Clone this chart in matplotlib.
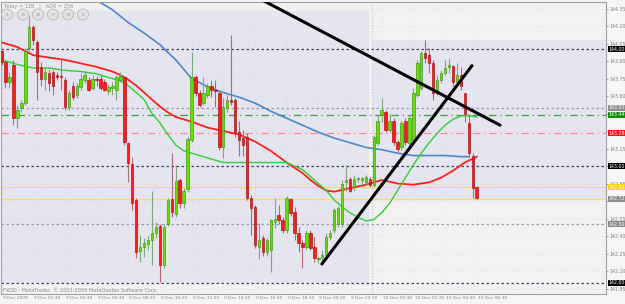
import matplotlib
matplotlib.use('Agg')
import matplotlib.pyplot as plt
from matplotlib.patches import Rectangle, Circle
import numpy as np

# M15 bars, 9 Dec 2009 00:30 -> 10 Dec 06:30
opens = [143.99, 143.89, 143.72, 143.87, 143.41, 143.50, 143.54, 144.01, 144.19, 144.06,
         143.85, 143.75, 143.80, 143.81, 143.78, 143.77, 143.74, 143.51, 143.69, 143.61,
         143.68, 143.74, 143.74, 143.67, 143.75, 143.75, 143.72, 143.64, 143.67, 143.65,
         143.74, 143.76, 143.20, 143.02, 142.71, 142.27, 142.31, 142.33, 142.37, 142.43,
         142.49, 142.15, 142.50, 142.72, 142.59, 142.88, 142.68, 142.80, 143.22, 143.76,
         143.63, 143.54, 143.61, 143.69, 143.65, 143.63, 143.16, 143.50, 143.57, 143.57,
         143.29, 143.24, 143.25, 142.73, 142.65, 142.31, 142.38, 142.26, 142.28, 142.52,
         142.58, 142.54, 142.45, 142.72, 142.61, 142.43, 142.34, 142.31, 142.43, 142.31,
         142.20, 142.22, 142.24, 142.39, 142.45, 142.50, 142.50, 142.86, 142.89, 142.82,
         142.89, 142.88, 142.86, 142.89, 142.84, 143.20, 143.44, 143.46, 143.31, 143.39,
         143.21, 143.16, 143.39, 143.20, 143.22, 143.61, 143.67, 143.97, 143.95, 143.88,
         143.63, 143.74, 143.80, 143.85, 143.86, 143.72, 143.78, 143.63, 143.37, 143.09,
         142.82]
highs = [144.01, 143.91, 143.81, 143.91, 143.52, 143.57, 144.01, 144.29, 144.21, 144.08,
         143.89, 143.84, 143.82, 143.82, 143.81, 143.93, 143.76, 143.65, 143.72, 143.71,
         143.80, 143.81, 143.76, 143.78, 143.77, 143.78, 143.75, 143.70, 143.72, 143.78,
         143.81, 143.77, 143.21, 143.08, 142.73, 142.41, 142.38, 142.40, 142.79, 142.52,
         142.50, 142.50, 142.73, 143.11, 143.01, 142.90, 142.81, 143.25, 143.98, 143.78,
         143.65, 143.76, 143.71, 143.74, 143.74, 143.65, 143.58, 143.61, 144.12, 143.58,
         143.39, 143.31, 143.28, 142.75, 142.67, 142.51, 142.41, 142.38, 142.55, 142.73,
         142.67, 142.56, 142.74, 142.73, 142.65, 142.48, 142.37, 142.45, 142.45, 142.39,
         142.22, 142.28, 142.43, 142.45, 142.64, 142.66, 142.88, 143.01, 142.91, 142.92,
         142.91, 142.91, 142.92, 142.91, 143.27, 143.44, 143.58, 143.48, 143.45, 143.41,
         143.22, 143.39, 143.41, 143.44, 143.67, 143.91, 143.99, 144.08, 144.01, 143.91,
         143.78, 143.82, 143.91, 143.93, 143.87, 143.88, 143.85, 143.63, 143.45, 143.11,
         142.83]
lows = [143.87, 143.67, 143.67, 143.35, 143.33, 143.46, 143.52, 143.99, 144.04, 143.57,
        143.69, 143.65, 143.64, 143.61, 143.74, 143.65, 143.48, 143.48, 143.57, 143.58,
        143.65, 143.71, 143.64, 143.65, 143.69, 143.65, 143.64, 143.61, 143.61, 143.57,
        143.72, 143.18, 142.86, 142.62, 142.21, 142.18, 142.22, 142.28, 142.15, 142.38,
        142.01, 142.13, 142.49, 142.56, 142.56, 142.64, 142.64, 142.78, 143.21, 143.60,
        143.51, 143.52, 143.58, 143.59, 143.51, 143.14, 143.07, 143.46, 143.52, 143.25,
        143.09, 143.09, 142.71, 142.41, 142.30, 142.20, 142.23, 142.23, 142.09, 142.47,
        142.50, 142.43, 142.43, 142.57, 142.37, 142.26, 142.13, 142.28, 142.28, 142.18,
        142.17, 142.16, 142.22, 142.37, 142.43, 142.48, 142.48, 142.79, 142.78, 142.79,
        142.86, 142.85, 142.84, 142.82, 142.82, 143.18, 143.38, 143.29, 143.29, 143.18,
        143.12, 143.14, 143.18, 143.18, 143.21, 143.59, 143.65, 143.88, 143.80, 143.57,
        143.61, 143.71, 143.78, 143.80, 143.69, 143.71, 143.65, 143.38, 143.08, 142.73,
        142.72]
closes = [143.89, 143.72, 143.76, 143.41, 143.48, 143.54, 143.99, 144.19, 144.08, 143.81,
          143.75, 143.81, 143.71, 143.69, 143.76, 143.76, 143.51, 143.63, 143.59, 143.69,
          143.75, 143.78, 143.65, 143.75, 143.74, 143.67, 143.65, 143.68, 143.69, 143.76,
          143.77, 143.21, 143.03, 142.68, 142.26, 142.31, 142.34, 142.37, 142.43, 142.48,
          142.15, 142.48, 142.71, 142.61, 142.87, 142.68, 142.79, 143.23, 143.76, 143.63,
          143.52, 143.63, 143.69, 143.65, 143.64, 143.16, 143.51, 143.57, 143.55, 143.28,
          143.22, 143.18, 142.73, 142.64, 142.32, 142.37, 142.26, 142.37, 142.54, 142.55,
          142.54, 142.45, 142.73, 142.60, 142.43, 142.34, 142.31, 142.43, 142.30, 142.21,
          142.21, 142.24, 142.39, 142.43, 142.62, 142.64, 142.85, 142.88, 142.79, 142.89,
          142.90, 142.90, 142.91, 142.84, 143.25, 143.39, 143.48, 143.31, 143.39, 143.21,
          143.15, 143.37, 143.21, 143.41, 143.63, 143.88, 143.97, 143.93, 143.88, 143.63,
          143.74, 143.80, 143.84, 143.87, 143.72, 143.78, 143.69, 143.45, 143.11, 142.81,
          142.73]

# moving averages (bar index, price)
blue_idx = [20, 24, 28, 32, 36, 40, 44, 48, 52, 56, 60, 64, 68, 72, 76, 80, 84, 88, 92, 96,
            100, 104, 108, 112, 116, 118]
blue_ma = [144.51, 144.42, 144.34, 144.23, 144.14, 144.04, 143.91, 143.75, 143.68, 143.63,
           143.59, 143.54, 143.47, 143.41, 143.35, 143.29, 143.24, 143.20, 143.16, 143.14,
           143.11, 143.09, 143.09, 143.09, 143.08, 143.08]
red_idx = [0, 4, 8, 12, 16, 20, 24, 28, 30, 32, 34, 36, 38, 40, 42, 44, 48, 52, 56, 60, 64,
           68, 72, 76, 78, 80, 82, 84, 88, 92, 96, 100, 104, 108, 111, 114, 117, 120]
red_ma = [144.06, 144.02, 143.95, 143.93, 143.91, 143.88, 143.85, 143.81, 143.78, 143.74,
          143.69, 143.63, 143.57, 143.51, 143.46, 143.42, 143.38, 143.33, 143.30, 143.27,
          143.21, 143.13, 143.03, 142.94, 142.88, 142.83, 142.79, 142.78, 142.81, 142.84,
          142.88, 142.85, 142.84, 142.86, 142.90, 142.96, 143.03, 143.08]
green_idx = [0, 4, 8, 12, 16, 20, 24, 28, 30, 32, 34, 36, 38, 40, 42, 44, 46, 48, 52, 56, 60,
             64, 68, 72, 76, 78, 80, 82, 84, 86, 88, 90, 92, 94, 96, 98, 100, 102, 104, 106,
             108, 110, 112, 114, 116, 118, 120]
green_ma = [143.91, 143.87, 143.84, 143.84, 143.82, 143.81, 143.79, 143.75, 143.73, 143.69,
            143.63, 143.57, 143.45, 143.37, 143.27, 143.18, 143.13, 143.11, 143.07, 143.03,
            143.03, 143.03, 143.03, 143.03, 142.97, 142.91, 142.85, 142.79, 142.71, 142.65,
            142.60, 142.56, 142.53, 142.54, 142.60, 142.68, 142.79, 142.90, 143.01, 143.11,
            143.20, 143.28, 143.35, 143.40, 143.43, 143.43, 143.42]

# trendlines: (bar index, price) end points
trend_down = [(66.0, 144.42), (125.9, 143.35)]
trend_up = [(80.9, 142.16), (118.8, 143.86)]

# daily high/low boxes: (first bar, last bar, high, low)
day_boxes = [(-1.0, 92.7, 144.33, 142.00), (93.8, 160.0, 144.08, 142.72)]
day_sep = 93.6

price_ticks = [141.95, 142.10, 142.25, 142.40, 142.55, 142.70, 142.85, 143.00, 143.15,
               143.30, 143.45, 143.60, 143.75, 143.90, 144.05, 144.20, 144.35]
time_idx = [0, 8, 16, 24, 32, 40, 48, 56, 64, 72, 80, 88, 96, 104, 112, 120]
time_labels = ['9 Dec 2009', '9 Dec 02:30', '9 Dec 04:30', '9 Dec 06:30', '9 Dec 08:30',
               '9 Dec 10:30', '9 Dec 12:30', '9 Dec 14:30', '9 Dec 16:30', '9 Dec 18:30',
               '9 Dec 20:30', '9 Dec 22:30', '10 Dec 00:30', '10 Dec 02:30', '10 Dec 04:30',
               '10 Dec 06:30']

# horizontal levels: price, color, style, label box color
levels = [(144.00, '#404060', (0, (2, 2)), 'black'),
          (143.50, '#9a9aa8', (0, (2, 2)), '#8c8c8c'),
          (143.44, '#3aa03a', (0, (6, 3, 1, 3)), '#109010'),
          (143.28, '#ff8a8a', (0, (6, 3, 1, 3)), '#ff1010'),
          (143.00, '#404060', (0, (2, 2)), 'black'),
          (142.82, '#ffd966', '-', '#ffd400'),
          (142.72, '#ffd966', '-', '#8c8c8c'),
          (142.50, '#9a9aa8', (0, (2, 2)), '#8c8c8c'),
          (142.00, '#404060', (0, (2, 2)), 'black')]

fig = plt.figure(figsize=(6.25, 3.04), dpi=100, facecolor='#f6f6f6')
ax = fig.add_axes([1 / 625, 10 / 304, 605 / 625, 292 / 304])
ax.set_facecolor('#f3f2f3')
ax.set_xlim(-0.13, 152.65)
ax.set_ylim(141.903, 144.406)

for x0, x1, hi, lo in day_boxes:
    ax.add_patch(Rectangle((x0, lo), x1 - x0, hi - lo, facecolor='#e5e5f0',
                           edgecolor='none', zorder=0))

for p in price_ticks:
    ax.axhline(p, color='#dcc6dc', lw=0.5, ls=(0, (1, 4)), zorder=0.5)
for t in time_idx:
    ax.axvline(t, color='#dcc6dc', lw=0.5, ls=(0, (1, 4)), zorder=0.5)
ax.axvline(day_sep, color='#b8b8c0', lw=0.7, ls=(0, (1, 2)), zorder=0.6)

for p, c, ls, bc in levels:
    ax.axhline(p, color=c, lw=0.9, ls=ls, zorder=1)

ax.plot(blue_idx, blue_ma, color='#4f86c6', lw=1.2, zorder=2)
ax.plot(red_idx, red_ma, color='#ff2020', lw=1.3, zorder=2)
ax.plot(green_idx, green_ma, color='#33cc33', lw=1.0, zorder=2)

# candles
x = np.arange(len(opens))
o = np.array(opens)
h = np.array(highs)
l = np.array(lows)
c = np.array(closes)
up = c >= o
ax.vlines(x[up], l[up], h[up], color='#7fa67f', lw=0.8, zorder=3)
ax.vlines(x[~up], l[~up], h[~up], color='#b06878', lw=0.8, zorder=3)
body = np.maximum(np.abs(c - o), 0.005)
ax.bar(x[up], body[up], bottom=np.minimum(o, c)[up], width=0.62, color='#66e000',
       edgecolor='#2f8a00', linewidth=0.4, zorder=3.5)
ax.bar(x[~up], body[~up], bottom=np.minimum(o, c)[~up], width=0.62, color='#ff1a1a',
       edgecolor='#a00000', linewidth=0.4, zorder=3.5)

for line in (trend_down, trend_up):
    ax.plot([line[0][0], line[1][0]], [line[0][1], line[1][1]], color='black', lw=2.2,
            solid_capstyle='round', zorder=4)

# axes frame and price scale
for s in ax.spines.values():
    s.set_color('#a0a0a0')
    s.set_linewidth(0.8)
ax.yaxis.tick_right()
ax.set_yticks(price_ticks)
# tick labels that sit under a coloured price box are hidden by it in the terminal
covered = [min(abs(p - lv[0]) for lv in levels) < 0.025 for p in price_ticks]
ax.set_yticklabels(['' if cv else '%.2f' % p for p, cv in zip(price_ticks, covered)])
ax.tick_params(axis='y', length=1.5, pad=1.0, labelsize=3.4, colors='#a0a0a0',
               labelcolor='#808080')
ax.set_xticks([])

for p, cl, ls, bc in levels:
    ax.text(1.0035, p, '%.2f' % p, transform=ax.get_yaxis_transform(), fontsize=3.4,
            color='white', va='center', ha='left', zorder=10, clip_on=False,
            bbox=dict(boxstyle='square,pad=0.12', facecolor=bc, edgecolor='none'))

for t, lab in zip(time_idx, time_labels):
    ax.text(t + 0.3, -0.006, lab, transform=ax.get_xaxis_transform(), fontsize=3.2,
            color='#808080', va='top', ha='left', clip_on=False)

# overlay in pixel coordinates for the terminal decorations
ov = fig.add_axes([0, 0, 1, 1])
ov.set_xlim(0, 625)
ov.set_ylim(304, 0)
ov.axis('off')
ov.patch.set_alpha(0)
ov.text(3, 6, 'Today = 128   |   ADR = 256', fontsize=3.6, color='#909090', va='center')
for bx, lab in zip([7, 23, 38, 53, 68, 83], ['5', '15', '30', 'H', 'H4', 'D']):
    ov.add_patch(Circle((bx, 14.5), 5.5, facecolor='#e2e2e2', edgecolor='#b8b8b8', lw=0.6))
    ov.text(bx, 14.5, lab, fontsize=3.0, color='#9a9a9a', ha='center', va='center')
ov.text(3, 290, 'FXDD - MetaTrader, \u00a9 2001-2009 MetaQuotes Software Corp.',
        fontsize=3.6, color='#8a8a8a', va='center')

fig.savefig('out.png', dpi=100, facecolor=fig.get_facecolor())
